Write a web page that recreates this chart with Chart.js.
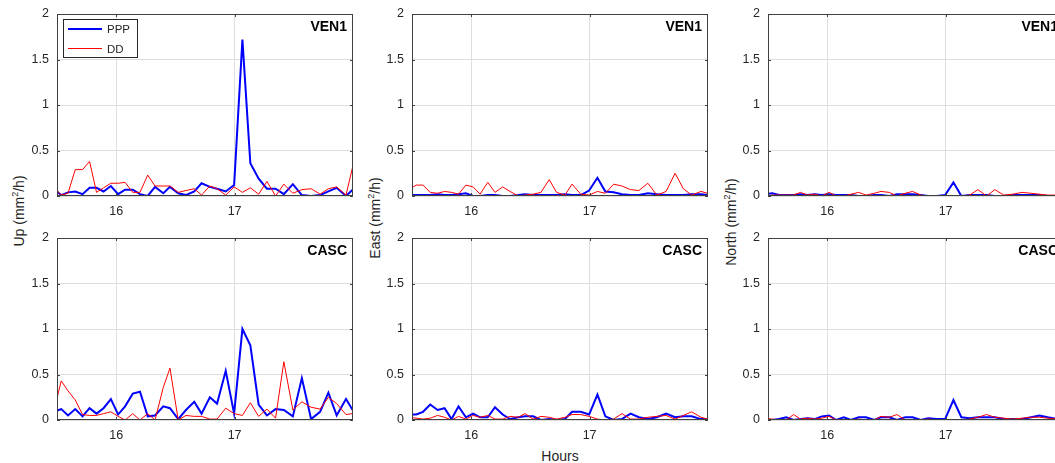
<!DOCTYPE html>
<html>
<head>
<meta charset="utf-8">
<script src="https://cdn.jsdelivr.net/npm/chart.js@4/dist/chart.umd.min.js"></script>
<style>
body{margin:0;width:1055px;height:463px;overflow:hidden;background:#fff;position:relative;font-family:"Liberation Sans",Arial,sans-serif;color:#262626}
canvas{position:absolute}
.yt{position:absolute;font-size:14px;white-space:nowrap;transform:translate(-50%,-50%) rotate(-90deg)}
.xt{position:absolute;font-size:14px;transform:translate(-50%,-50%)}
sup{font-size:9px;line-height:0}
</style>
</head>
<body>
<div class="yt" style="left:19px;top:211px">Up (mm<sup>2</sup>/h)</div>
<div class="yt" style="left:375px;top:218px">East (mm<sup>2</sup>/h)</div>
<div class="yt" style="left:731px;top:222px">North (mm<sup>2</sup>/h)</div>
<div class="xt" style="left:560px;top:456px">Hours</div>
<script>
// time of day (hours)
const hours = [15.475,15.536,15.593,15.654,15.716,15.775,15.834,15.893,15.955,16.016,
  16.075,16.140,16.201,16.266,16.328,16.398,16.454,16.524,16.589,16.659,
  16.721,16.791,16.852,16.925,16.996,17.066,17.133,17.203,17.273,17.346,
  17.416,17.492,17.568,17.646,17.722,17.792,17.862,17.941,17.997];
const xTicks = [16, 17];
const yTicks = [0, 0.5, 1, 1.5, 2];
const seriesNames = ['PPP', 'DD'];

// VEN1
const pppUpVEN1 = [0.07,0.01,0.04,0.05,0.02,0.09,0.09,0.05,0.11,0.02,0.07,0.07,0.02,0.0,0.10,0.03,0.10,0.03,0.01,0.05,0.14,0.10,0.08,0.05,0.12,1.72,0.36,0.19,0.08,0.08,0.02,0.13,0.01,0.0,0.01,0.05,0.09,0.0,0.07];
const ddUpVEN1 = [0.10,0.01,0.03,0.29,0.29,0.38,0.04,0.09,0.14,0.14,0.15,0.04,0.04,0.23,0.11,0.11,0.11,0.04,0.06,0.08,0.01,0.11,0.08,0.01,0.10,0.04,0.09,0.02,0.16,0.0,0.13,0.03,0.07,0.08,0.02,0.08,0.10,0.01,0.32];
const pppEastVEN1 = [0.01,0.01,0.01,0.01,0.02,0.01,0.01,0.02,0.03,0.0,0.0,0.01,0.01,0.0,0.0,0.01,0.02,0.01,0.01,0.01,0.01,0.02,0.01,0.01,0.06,0.20,0.05,0.04,0.02,0.01,0.01,0.03,0.02,0.01,0.01,0.01,0.02,0.02,0.01];
const ddEastVEN1 = [0.07,0.12,0.12,0.04,0.03,0.05,0.04,0.02,0.12,0.10,0.02,0.15,0.04,0.10,0.05,0.0,0.01,0.02,0.04,0.18,0.04,0.01,0.13,0.02,0.01,0.05,0.03,0.13,0.11,0.07,0.06,0.14,0.01,0.05,0.25,0.08,0.01,0.05,0.03];
const pppNorthVEN1 = [0.02,0.03,0.01,0.01,0.01,0.02,0.01,0.02,0.01,0.02,0.01,0.01,0.01,0.0,0.0,0.01,0.01,0.0,0.02,0.02,0.02,0.01,0.0,0.0,0.01,0.15,0.0,0.01,0.01,0.01,0.0,0.0,0.01,0.01,0.01,0.01,0.0,0.0,0.0];
const ddNorthVEN1 = [0.0,0.01,0.01,0.01,0.01,0.04,0.01,0.02,0.0,0.04,0.0,0.0,0.02,0.04,0.01,0.03,0.05,0.04,0.0,0.03,0.05,0.01,0.0,0.0,0.0,0.0,0.0,0.01,0.07,0.0,0.07,0.01,0.02,0.04,0.03,0.02,0.01,0.01,0.0];

// CASC
const pppUpCASC = [0.09,0.12,0.05,0.12,0.04,0.13,0.07,0.13,0.23,0.06,0.15,0.29,0.31,0.04,0.05,0.15,0.13,0.01,0.11,0.20,0.07,0.25,0.18,0.54,0.07,1.0,0.82,0.17,0.05,0.12,0.11,0.04,0.46,0.01,0.09,0.30,0.05,0.23,0.11];
const ddUpCASC = [0.11,0.43,0.32,0.22,0.06,0.05,0.05,0.07,0.09,0.04,0.0,0.07,0.0,0.07,0.0,0.36,0.57,0.0,0.05,0.04,0.04,0.01,0.01,0.13,0.07,0.05,0.19,0.04,0.12,0.02,0.64,0.11,0.20,0.14,0.12,0.25,0.18,0.06,0.07];
const pppEastCASC = [0.06,0.06,0.09,0.17,0.11,0.13,0.01,0.15,0.03,0.07,0.03,0.03,0.14,0.06,0.01,0.03,0.04,0.04,0.0,0.01,0.0,0.01,0.09,0.09,0.06,0.28,0.04,0.0,0.01,0.07,0.03,0.01,0.03,0.07,0.03,0.04,0.04,0.01,0.01];
const ddEastCASC = [0.03,0.02,0.01,0.02,0.05,0.03,0.0,0.04,0.01,0.05,0.03,0.05,0.01,0.01,0.04,0.03,0.07,0.01,0.04,0.03,0.01,0.03,0.06,0.06,0.04,0.01,0.0,0.01,0.07,0.01,0.01,0.03,0.04,0.05,0.01,0.05,0.09,0.03,0.01];
const pppNorthCASC = [0.0,0.0,0.01,0.03,0.0,0.01,0.02,0.01,0.04,0.05,0.0,0.03,0.0,0.03,0.03,0.0,0.03,0.03,0.0,0.03,0.03,0.0,0.02,0.01,0.01,0.22,0.03,0.02,0.03,0.03,0.03,0.01,0.01,0.01,0.03,0.05,0.03,0.01,0.01];
const ddNorthCASC = [0.02,0.01,0.0,0.0,0.06,0.01,0.02,0.01,0.02,0.04,0.0,0.0,0.0,0.01,0.0,0.0,0.04,0.03,0.06,0.0,0.0,0.0,0.01,0.0,0.0,0.0,0.0,0.01,0.03,0.06,0.03,0.02,0.01,0.02,0.03,0.03,0.02,0.01,0.01];

const FONT = '"Liberation Sans", Arial, sans-serif';
const INK = '#262626';

// box, inward ticks, station name and (optionally) legend, MATLAB style
const boxPlugin = {
  id: 'box',
  afterDraw(chart) {
    const ctx = chart.ctx, a = chart.chartArea;
    const sx = chart.scales.x, sy = chart.scales.y;
    const o = chart.options.plugins.box;
    ctx.save();
    ctx.strokeStyle = '#404040';
    ctx.lineWidth = 1;
    ctx.strokeRect(a.left + 0.5, a.top + 0.5, a.right - a.left - 1, a.bottom - a.top - 1);
    ctx.beginPath();
    yTicks.forEach(v => {
      const y = Math.round(sy.getPixelForValue(v)) + 0.5;
      ctx.moveTo(a.left, y); ctx.lineTo(a.left + 3, y);
      ctx.moveTo(a.right - 3, y); ctx.lineTo(a.right, y);
    });
    xTicks.forEach(v => {
      const x = Math.round(sx.getPixelForValue(v)) + 0.5;
      ctx.moveTo(x, a.bottom); ctx.lineTo(x, a.bottom - 3);
      ctx.moveTo(x, a.top); ctx.lineTo(x, a.top + 3);
    });
    ctx.stroke();

    ctx.fillStyle = '#000';
    ctx.font = 'bold 14px ' + FONT;
    ctx.textAlign = 'right';
    ctx.textBaseline = 'middle';
    ctx.fillText(o.station, a.right - 6, a.top + 13);

    if (o.legend) {
      const lx = a.left + 6, ly = a.top + 5, lw = 74, lh = 38;
      ctx.fillStyle = '#fff';
      ctx.fillRect(lx, ly, lw, lh);
      ctx.strokeStyle = INK;
      ctx.lineWidth = 1;
      ctx.strokeRect(lx + 0.5, ly + 0.5, lw, lh);
      ctx.font = '11.5px ' + FONT;
      ctx.textAlign = 'left';
      chart.data.datasets.forEach((ds, i) => {
        const yy = ly + 10 + i * 19 + (ds.borderWidth % 2 ? 0.5 : 0);
        ctx.strokeStyle = ds.borderColor;
        ctx.lineWidth = ds.borderWidth;
        ctx.beginPath();
        ctx.moveTo(lx + 5, yy); ctx.lineTo(lx + 39, yy);
        ctx.stroke();
        ctx.fillStyle = INK;
        ctx.fillText(ds.label, lx + 44, yy + 1);
      });
    }
    ctx.restore();
  }
};

function pts(vals) {
  return vals.map((v, i) => ({x: hours[i], y: v}));
}

function noPad(ax) {
  ax.paddingTop = 0; ax.paddingBottom = 0; ax.paddingLeft = 0; ax.paddingRight = 0;
}

function panel(left, top, ppp, dd, station, legend) {
  const cv = document.createElement('canvas');
  cv.width = 356; cv.height = 214;
  cv.style.left = (left - 50) + 'px';
  cv.style.top = (top - 8) + 'px';
  document.body.appendChild(cv);
  new Chart(cv.getContext('2d'), {
    type: 'line',
    data: {
      datasets: [
        {label: seriesNames[0], data: pts(ppp), borderColor: '#0000ff', borderWidth: 2, pointRadius: 0, order: 1},
        {label: seriesNames[1], data: pts(dd), borderColor: '#ff0000', borderWidth: 1, pointRadius: 0, order: 0}
      ]
    },
    options: {
      responsive: false,
      animation: false,
      devicePixelRatio: 1,
      layout: {padding: {top: 8, right: 10, left: 0, bottom: 0}},
      plugins: {legend: {display: false}, tooltip: {enabled: false}, box: {station: station, legend: legend}},
      scales: {
        x: {
          type: 'linear', min: 15.5, max: 18,
          afterBuildTicks: ax => { ax.ticks = xTicks.map(v => ({value: v})); },
          afterFit: ax => { ax.height = 24; noPad(ax); },
          grid: {color: '#dedede', drawTicks: false},
          border: {display: false},
          ticks: {color: INK, padding: 8, font: {family: FONT, size: 12.5}, maxRotation: 0, callback: v => String(v)}
        },
        y: {
          min: 0, max: 2,
          afterBuildTicks: ax => { ax.ticks = yTicks.map(v => ({value: v})); },
          afterFit: ax => { ax.width = 50; noPad(ax); },
          grid: {color: '#dedede', drawTicks: false},
          border: {display: false},
          ticks: {color: INK, padding: 8, font: {family: FONT, size: 12.5}, callback: v => String(v)}
        }
      }
    },
    plugins: [boxPlugin]
  });
}

panel(57, 14, pppUpVEN1, ddUpVEN1, 'VEN1', true);
panel(412, 14, pppEastVEN1, ddEastVEN1, 'VEN1', false);
panel(768, 14, pppNorthVEN1, ddNorthVEN1, 'VEN1', false);
panel(57, 238, pppUpCASC, ddUpCASC, 'CASC', false);
panel(412, 238, pppEastCASC, ddEastCASC, 'CASC', false);
panel(768, 238, pppNorthCASC, ddNorthCASC, 'CASC', false);
</script>
</body>
</html>
